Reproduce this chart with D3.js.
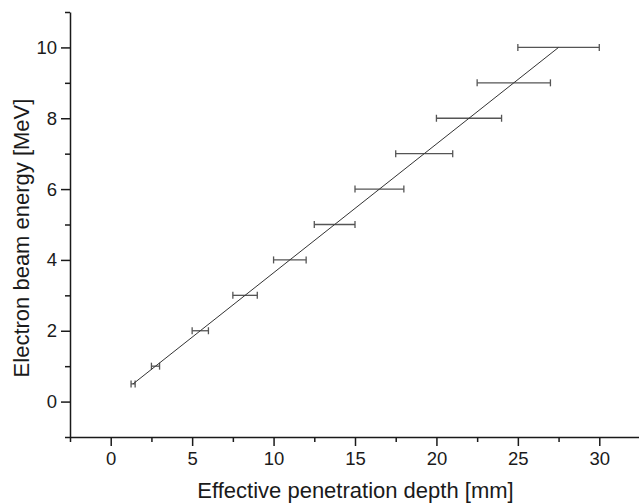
<!DOCTYPE html>
<html>
<head>
<meta charset="utf-8">
<script src="https://cdn.jsdelivr.net/npm/d3@7"></script>
<style>
	body { margin: 0; background: #fff; }
	svg { display: block; font-family: "Liberation Sans", Arial, sans-serif; }
	.axis path, .axis line { stroke: #1a1a1a; stroke-width: 1.5; }
	.axis text { fill: #1a1a1a; font-size: 18.5px; }
</style>
</head>
<body>
<div id="chart"></div>
<script>
// beam energy (MeV) vs effective penetration depth (mm), with depth uncertainty
let energy = [0.5, 1, 2, 3, 4, 5, 6, 7, 8, 9, 10];
let depth = [1.375, 2.75, 5.5, 8.25, 11, 13.75, 16.5, 19.25, 22, 24.75, 27.5];
let depthErr = [0.125, 0.25, 0.5, 0.75, 1, 1.25, 1.5, 1.75, 2, 2.25, 2.5];

let xMajor = [0, 5, 10, 15, 20, 25, 30];
let xMinor = [-2.5, 2.5, 7.5, 12.5, 17.5, 22.5, 27.5, 32.5];
let yMajor = [0, 2, 4, 6, 8, 10];
let yMinor = [-1, 1, 3, 5, 7, 9, 11];

let width = 639, height = 503;

let svg = d3.select("#chart")
	.append("svg")
	.attr("width", width)
	.attr("height", height);

let xScale = d3.scaleLinear()
	.domain([-2.5, 32.5])
	.range([70, 640]);

let yScale = d3.scaleLinear()
	.domain([-1, 11])
	.range([437, 12]);

// error bars
let bars = svg.append("g")
	.attr("stroke", "#555")
	.attr("stroke-width", 1.3)
	.selectAll("g")
	.data(energy)
	.enter().append("g");

bars.append("line")
	.attr("x1", function (d, i) { return xScale(depth[i] - depthErr[i]); })
	.attr("x2", function (d, i) { return xScale(depth[i] + depthErr[i]); })
	.attr("y1", function (d) { return yScale(d); })
	.attr("y2", function (d) { return yScale(d); });

bars.append("line")
	.attr("x1", function (d, i) { return xScale(depth[i] - depthErr[i]); })
	.attr("x2", function (d, i) { return xScale(depth[i] - depthErr[i]); })
	.attr("y1", function (d) { return yScale(d) - 3.5; })
	.attr("y2", function (d) { return yScale(d) + 3.5; });

bars.append("line")
	.attr("x1", function (d, i) { return xScale(depth[i] + depthErr[i]); })
	.attr("x2", function (d, i) { return xScale(depth[i] + depthErr[i]); })
	.attr("y1", function (d) { return yScale(d) - 3.5; })
	.attr("y2", function (d) { return yScale(d) + 3.5; });

// fitted line through the points
let line = d3.line()
	.x(function (d, i) { return xScale(depth[i]); })
	.y(function (d) { return yScale(d); });

svg.append("path")
	.datum(energy)
	.attr("fill", "none")
	.attr("stroke", "#333")
	.attr("stroke-width", 1)
	.attr("d", line);

// x axis: major + minor ticks
svg.append("g")
	.attr("class", "axis")
	.attr("transform", "translate(0,437)")
	.call(d3.axisBottom(xScale).tickValues(xMinor).tickSize(5).tickSizeOuter(0).tickFormat(""));

svg.append("g")
	.attr("class", "axis")
	.attr("transform", "translate(0,437)")
	.call(d3.axisBottom(xScale).tickValues(xMajor).tickSize(9).tickSizeOuter(0).tickPadding(6))
	.select(".domain").remove();

// y axis
svg.append("g")
	.attr("class", "axis")
	.attr("transform", "translate(70,0)")
	.call(d3.axisLeft(yScale).tickValues(yMinor).tickSize(5).tickSizeOuter(0).tickFormat(""));

svg.append("g")
	.attr("class", "axis")
	.attr("transform", "translate(70,0)")
	.call(d3.axisLeft(yScale).tickValues(yMajor).tickSize(9).tickSizeOuter(0).tickPadding(4))
	.select(".domain").remove();

// axis titles
svg.append("text")
	.attr("x", 355.5)
	.attr("y", 498)
	.attr("text-anchor", "middle")
	.attr("font-size", "22px")
	.attr("fill", "#1a1a1a")
	.text("Effective penetration depth [mm]");

svg.append("text")
	.attr("transform", "translate(29,238) rotate(-90)")
	.attr("text-anchor", "middle")
	.attr("font-size", "22px")
	.attr("fill", "#1a1a1a")
	.text("Electron beam energy [MeV]");
</script>
</body>
</html>
